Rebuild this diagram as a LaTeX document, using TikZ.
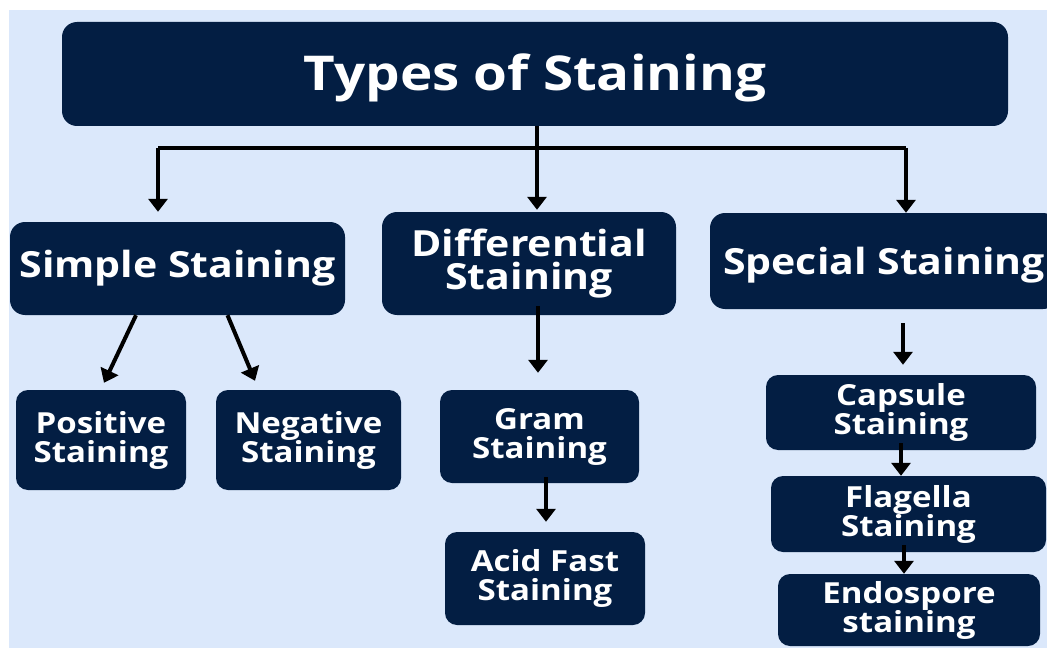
\documentclass[tikz,border=0pt]{standalone}
\usepackage{fontspec}
\setmainfont{Open Sans}[FakeStretch=1.14]
\usepackage{tikz}
\usetikzlibrary{calc,positioning,arrows.meta}
\definecolor{stainnavy}{RGB}{3,30,67}
\definecolor{stainbg}{RGB}{219,232,251}
\tikzset{
 st box/.style={fill=stainnavy,draw=none,rounded corners=15pt,text=white,
                align=center,inner sep=0pt,font=\bfseries},
 st title/.style={st box,text height=46pt,text depth=12pt,
                  font=\bfseries\fontsize{48}{50}\selectfont},
 st main/.style={st box,font=\bfseries\fontsize{36}{33}\selectfont},
 st sub/.style={st box,rounded corners=12pt,font=\bfseries\fontsize{29}{29}\selectfont},
 st line/.style={line width=4pt,black},
 st arrow/.style={st line,-{Triangle[length=13pt,width=19pt]}}
}
\begin{document}
\begin{tikzpicture}[x=1pt,y=-1pt]
 \useasboundingbox (0,0) rectangle (1047,650);
 \fill[stainbg] (9,10) rectangle (1047,648);
 % level 1
 \node[st title,minimum width=946pt,minimum height=104pt] (types) at (535,74) {Types of Staining};
 % level 2
 \node[st main,minimum width=335pt,minimum height=93pt] (simple) at (177.5,268.5) {Simple Staining};
 \node[st main,minimum width=294pt,minimum height=103pt] (diff) at (529,263.5) {Differential\\Staining};
 \node[st main,text height=36pt,text depth=9pt,minimum width=348pt,minimum height=96pt]
   (special) at (884,261) {Special Staining};
 % level 3
 \node[st sub,minimum width=170pt,minimum height=100pt] (pos) at (101,440) {Positive\\Staining};
 \node[st sub,minimum width=185pt,minimum height=100pt] (neg) at (308.5,440) {Negative\\Staining};
 \node[st sub,minimum width=199pt,minimum height=93pt] (gram) at (539.5,436.5) {Gram\\Staining};
 \node[st sub,minimum width=200pt,minimum height=93pt] (acid) at (545,578.5) {Acid Fast\\Staining};
 \node[st sub,minimum width=270pt,minimum height=75pt] (capsule) at (901,412.5) {Capsule\\Staining};
 \node[st sub,minimum width=275pt,minimum height=76pt] (flag) at (908.5,514) {Flagella\\Staining};
 \node[st sub,minimum width=262pt,minimum height=72pt] (endo) at (909,610) {Endospore\\staining};
 % connectors
 \coordinate (jl) at (158,148);
 \coordinate (jr) at (906,148);
 \draw[st line] (jl) -- (jr);
 \draw[st arrow] (jl) -- ($(jl |- simple.north)+(0,-10)$);
 \draw[st arrow] (jr) -- (jr |- special.north);
 \draw[st arrow] (types.south -| 537,0) -- ($(diff.north -| 537,0)+(0,-2)$);
 \draw[st arrow] ([xshift=-41.5pt]simple.south) -- ([xshift=3pt,yshift=7pt]pos.north);
 \draw[st arrow] ([xshift=50pt]simple.south) -- ([xshift=-53.5pt,yshift=9pt]neg.north);
 \draw[st arrow] ([yshift=9pt]diff.south -| 538,0) -- ([yshift=17pt]gram.north -| 538,0);
 \draw[st arrow] ([yshift=6pt]gram.south -| 546,0) -- ([yshift=10pt]acid.north -| 546,0);
 \draw[st arrow] ([yshift=-14pt]special.south -| 903,0) -- ([yshift=10pt]capsule.north -| 903,0);
 \draw[st arrow] ([yshift=7pt]capsule.south -| 901,0) -- (flag.north -| 901,0);
 \draw[st arrow] ([yshift=7pt]flag.south -| 904,0) -- (endo.north -| 904,0);
\end{tikzpicture}
\end{document}
